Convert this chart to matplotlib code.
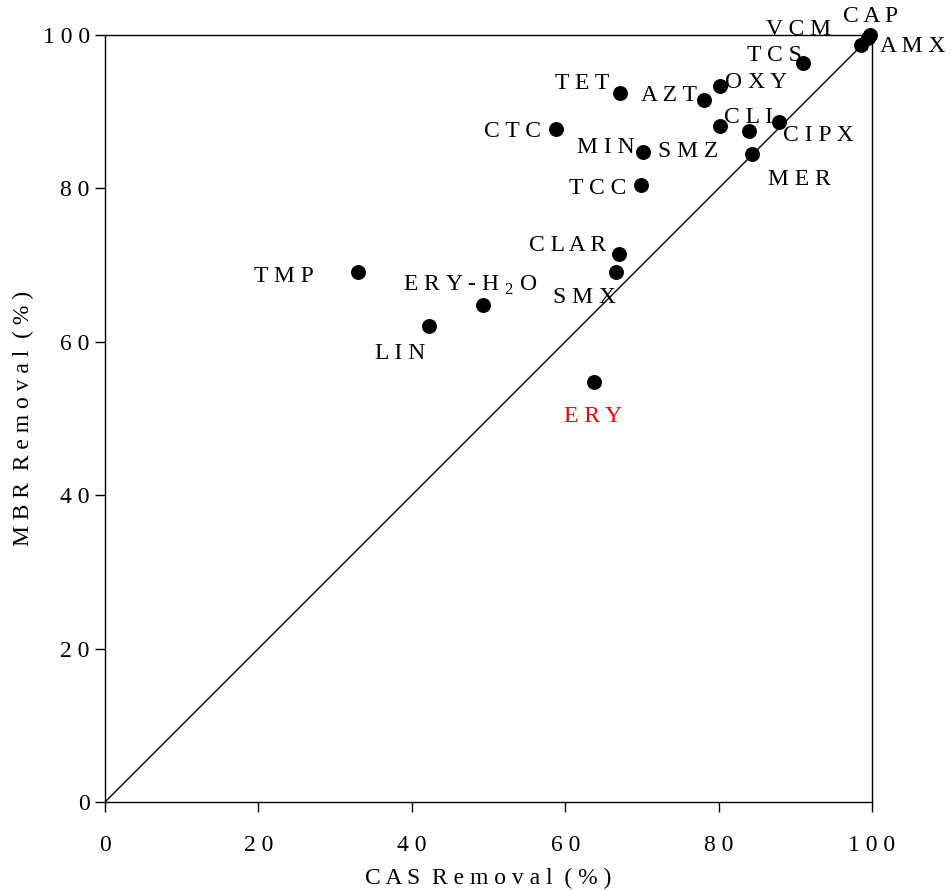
import matplotlib.pyplot as plt

# removal data (%)
compounds = ['VCM', 'CAP', 'AMX', 'TCS', 'OXY', 'TET', 'AZT', 'CTC', 'CLI',
             'SMZ', 'CIPX', 'MIN', 'MER', 'TCC', 'CLAR', 'SMX', 'TMP',
             'ERY-H$_2$O', 'LIN', 'ERY']
cas_removal = [99.5, 99.8, 98.6, 91.0, 80.2, 67.1, 78.1, 58.8, 80.2,
               83.9, 87.9, 70.2, 84.4, 69.9, 67.0, 66.6, 33.0,
               49.3, 42.2, 63.8]
mbr_removal = [99.6, 100.0, 98.7, 96.4, 93.4, 92.5, 91.5, 87.8, 88.1,
               87.5, 88.7, 84.7, 84.5, 80.4, 71.4, 69.1, 69.1,
               64.8, 62.1, 54.8]

# label offsets in pixels (dx, dy)
offsets = [(-70, 9), (0, 18), (51, -2), (-29, 7), (36, 3), (-37, 9), (-35, 5),
           (-43, -3), (28, 9), (-60, -21), (39, -14), (-38, 5), (47, -26),
           (-43, -3), (-51, 9), (-31, -25), (-74, -4), (-13, 20), (-29, -28),
           (-1, -35)]

def spaced(s):
    if '$' in s:
        return 'E R Y - H $_2$ O'
    return ' '.join(s)

plt.rcParams['font.family'] = ['Liberation Serif', 'DejaVu Serif']
plt.rcParams['mathtext.fontset'] = 'custom'
plt.rcParams['mathtext.rm'] = 'Liberation Serif'

fig = plt.figure(figsize=(9.51, 8.90), dpi=100)
ax = fig.add_axes([105/951, 88/890, 767/951, 767/890])

ax.plot([0, 100], [0, 100], color='black', lw=1)
ax.scatter(cas_removal, mbr_removal, s=95, color='black', zorder=3, clip_on=False)

for name, x, y, (dx, dy) in zip(compounds, cas_removal, mbr_removal, offsets):
    col = 'red' if name == 'ERY' else 'black'
    ax.annotate(spaced(name), (x, y), xytext=(dx, dy), textcoords='offset pixels',
                ha='center', va='center', fontsize=17, color=col,
                annotation_clip=False)

ax.set_xlim(0, 100)
ax.set_ylim(0, 100)
ticks = [0, 20, 40, 60, 80, 100]
ax.set_xticks(ticks)
ax.set_yticks(ticks)
ax.set_xticklabels([' '.join(str(t)) for t in ticks], fontsize=17)
ax.set_yticklabels([' '.join(str(t)) for t in ticks], fontsize=17)
ax.tick_params(axis='x', direction='out', length=7, width=1, pad=17)
ax.tick_params(axis='y', direction='out', length=7, width=1, pad=4)
for sp in ax.spines.values():
    sp.set_linewidth(1)

ax.set_xlabel('C A S  R e m o v a l  ( % )', fontsize=17, labelpad=8)
ax.set_ylabel('M B R  R e m o v a l  ( % )', fontsize=17, labelpad=6)

fig.savefig('out.png', dpi=100)
